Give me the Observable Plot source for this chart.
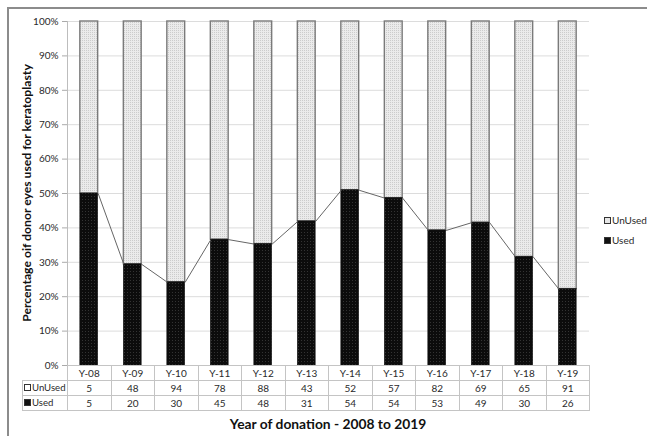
<!DOCTYPE html>
<html><head><meta charset="utf-8">
<script src="https://cdn.jsdelivr.net/npm/d3@7"></script>
<script src="https://cdn.jsdelivr.net/npm/@observablehq/plot@0.6"></script>
<style>
body{margin:0;background:#fff;font-family:Lato,"Open Sans",sans-serif;}
#wrap{position:relative;width:647px;height:436px;overflow:hidden;background:#fff;}
#frameTop{position:absolute;left:7px;top:7px;width:640px;height:0;border-top:2px solid #8c8c8c;}
#frameLeft{position:absolute;left:7px;top:7px;width:0;height:429px;border-left:2px solid #8c8c8c;}
#chart{position:absolute;left:0;top:0;}
#tbl{position:absolute;left:22px;top:365px;border-collapse:collapse;font-size:10px;color:#2a2a2a;table-layout:fixed;width:567px;}
#tbl td{border:1px solid #c4c4c4;text-align:center;padding:0;height:14px;line-height:14px;white-space:nowrap;overflow:hidden;}
#tbl td.lab{text-align:left;padding-left:1px;font-size:9.6px;}
#tbl td.blank{border-top:none;border-left:none;}
.sq{display:inline-block;width:5px;height:5px;border:1px solid #333;margin-right:1px;vertical-align:0px;}
#ytitle{position:absolute;left:26px;top:193px;transform:translate(-50%,-50%) rotate(-90deg);font-weight:bold;font-size:12.2px;color:#111;white-space:nowrap;}
#xtitle{position:absolute;left:328px;top:423px;transform:translate(-50%,-50%);font-weight:bold;font-size:13.8px;color:#111;white-space:nowrap;}
#legend{position:absolute;left:604px;top:210px;font-size:10px;color:#2a2a2a;line-height:20px;white-space:nowrap;}
</style>
</head><body>
<div id="wrap">
  <div id="chart"></div>
  <div id="frameTop"></div>
  <div id="frameLeft"></div>
  <div id="ytitle">Percentage oif donor eyes used for keratoplasty</div>
  <div id="xtitle">Year of donation - 2008 to 2019</div>
  <div id="legend"></div>
  <table id="tbl"></table>
</div>
<script>
const years = ["Y-08","Y-09","Y-10","Y-11","Y-12","Y-13","Y-14","Y-15","Y-16","Y-17","Y-18","Y-19"];
const unusedCounts = [5,48,94,78,88,43,52,57,82,69,65,91];
const usedCounts = [5,20,30,45,48,31,54,54,53,49,30,26];
const seriesNames = ["UnUsed","Used"];
const yTicks = [0,0.1,0.2,0.3,0.4,0.5,0.6,0.7,0.8,0.9,1];

const HW = 0.205; // half bar width in category units
const rows = years.map((y, i) => {
  const share = usedCounts[i] / (usedCounts[i] + unusedCounts[i]);
  return {i, year: y, share};
});
const links = rows.slice(0, -1).map((r, k) => ({a: r.i, b: rows[k + 1].i, ya: r.share, yb: rows[k + 1].share}));

const plot = Plot.plot({
  width: 647,
  height: 380,
  marginLeft: 67,
  marginRight: 58,
  marginTop: 21,
  marginBottom: 15,
  style: {fontFamily: "Lato, 'Open Sans', sans-serif", fontSize: "10px", color: "#2a2a2a", background: "transparent"},
  x: {type: "linear", domain: [-0.5, years.length - 0.5], axis: null},
  y: {domain: [0, 1], axis: null},
  marks: [
    Plot.gridY(yTicks, {stroke: "#dcdcdc", strokeOpacity: 1}),
    Plot.axisY(yTicks, {tickFormat: d3.format(".0%"), tickSize: 5, tickPadding: 4, stroke: "#aaa", fill: "#2a2a2a", fontSize: 10}),
    Plot.ruleX([-0.5], {stroke: "#bdbdbd"}),
    Plot.rectY(rows, {x1: d => d.i - HW, x2: d => d.i + HW, y1: d => d.share, y2: 1, fill: "url(#dotsLight)", stroke: "#7a7a7a", strokeWidth: 1.4}),
    Plot.rectY(rows, {x1: d => d.i - HW, x2: d => d.i + HW, y1: 0, y2: d => d.share, fill: "url(#dotsDark)", stroke: "#111", strokeWidth: 0.6}),
    Plot.link(links, {x1: d => d.a + HW, x2: d => d.b - HW, y1: "ya", y2: "yb", stroke: "#666", strokeWidth: 1})
  ]
});

// patterns
const svg = d3.select(plot);
const defs = svg.insert("defs", ":first-child");
const pl = defs.append("pattern").attr("id", "dotsLight").attr("patternUnits", "userSpaceOnUse").attr("width", 2).attr("height", 2);
pl.append("rect").attr("width", 2).attr("height", 2).attr("fill", "#ebebeb");
pl.append("rect").attr("width", 1).attr("height", 1).attr("fill", "#cccccc");
const pd = defs.append("pattern").attr("id", "dotsDark").attr("patternUnits", "userSpaceOnUse").attr("width", 3).attr("height", 3);
pd.append("rect").attr("width", 3).attr("height", 3).attr("fill", "#0c0c0c");
pd.append("rect").attr("x", 1).attr("y", 1).attr("width", 1).attr("height", 1).attr("fill", "#333");
document.getElementById("chart").appendChild(plot);

// legend
const legend = document.getElementById("legend");
const legendFills = {UnUsed: "#e6e6e6", Used: "#111"};
seriesNames.forEach(n => {
  const div = document.createElement("div");
  div.innerHTML = `<span class="sq" style="background:${legendFills[n]}"></span>${n}`;
  legend.appendChild(div);
});

// data table
const tbl = document.getElementById("tbl");
let html = `<colgroup><col style="width:45px">${years.map(() => '<col style="width:43.5px">').join("")}</colgroup>`;
html += `<tr><td class="blank"></td>${years.map(y => `<td>${y}</td>`).join("")}</tr>`;
html += `<tr><td class="lab"><span class="sq" style="background:#fff"></span>${seriesNames[0]}</td>${unusedCounts.map(v => `<td>${v}</td>`).join("")}</tr>`;
html += `<tr><td class="lab"><span class="sq" style="background:#111"></span>${seriesNames[1]}</td>${usedCounts.map(v => `<td>${v}</td>`).join("")}</tr>`;
tbl.innerHTML = html;
</script>
</body></html>
